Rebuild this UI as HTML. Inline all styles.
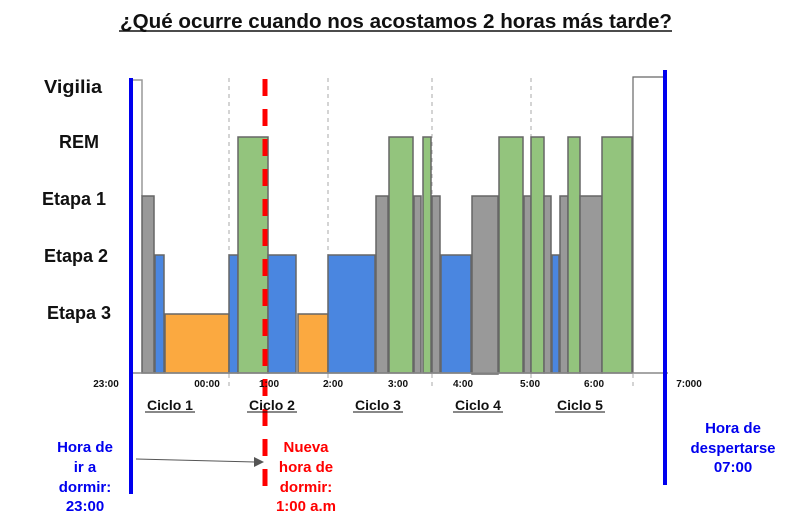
<!DOCTYPE html>
<html><head><meta charset="utf-8"><style>
html,body{margin:0;padding:0;background:#fff;}
svg{display:block;font-family:"Liberation Sans",sans-serif;}
</style></head><body>
<svg width="793" height="531" viewBox="0 0 793 531" xmlns="http://www.w3.org/2000/svg">
<text x="396" y="28" text-anchor="middle" font-size="20" font-weight="bold" fill="#111" textLength="552" lengthAdjust="spacingAndGlyphs">¿Qué ocurre cuando nos acostamos 2 horas más tarde?</text>
<line x1="119" y1="31" x2="672" y2="31" stroke="#111" stroke-width="1.5"/>
<g font-size="18" font-weight="bold" fill="#111" text-anchor="end">
<text x="102" y="93" textLength="58" lengthAdjust="spacingAndGlyphs">Vigilia</text>
<text x="99" y="148">REM</text>
<text x="106" y="205">Etapa 1</text>
<text x="108" y="262">Etapa 2</text>
<text x="111" y="319">Etapa 3</text>
</g>
<g stroke="#aaa" stroke-width="1" stroke-dasharray="4,4">
<line x1="229" y1="78" x2="229" y2="386"/>
<line x1="328" y1="78" x2="328" y2="386"/>
<line x1="432" y1="78" x2="432" y2="386"/>
<line x1="531" y1="78" x2="531" y2="386"/>
<line x1="633" y1="78" x2="633" y2="386"/>
</g>
<polyline points="131,80 142,80 142,196" fill="none" stroke="#999" stroke-width="1.5"/>
<polyline points="633,373 633,77 664,77" fill="none" stroke="#666" stroke-width="1.2"/>
<g stroke="#666" stroke-width="1.5">
<rect x="142" y="196" width="12" height="177" fill="#999"/>
<rect x="155" y="255" width="9" height="118" fill="#4a86e0"/>
<rect x="165" y="314" width="64" height="59" fill="#fba940"/>
<rect x="229" y="255" width="9" height="118" fill="#4a86e0"/>
<rect x="238" y="137" width="30" height="236" fill="#93c47d"/>
<rect x="268" y="255" width="28" height="118" fill="#4a86e0"/>
<rect x="298" y="314" width="30" height="59" fill="#fba940"/>
<rect x="328" y="255" width="47" height="118" fill="#4a86e0"/>
<rect x="376" y="196" width="12" height="177" fill="#999"/>
<rect x="389" y="137" width="24" height="236" fill="#93c47d"/>
<rect x="414" y="196" width="7" height="177" fill="#999"/>
<rect x="423" y="137" width="8" height="236" fill="#93c47d"/>
<rect x="432" y="196" width="8" height="177" fill="#999"/>
<rect x="441" y="255" width="30" height="118" fill="#4a86e0"/>
<rect x="472" y="196" width="26" height="178" fill="#999"/>
<rect x="499" y="137" width="24" height="236" fill="#93c47d"/>
<rect x="524" y="196" width="7" height="177" fill="#999"/>
<rect x="531" y="137" width="13" height="236" fill="#93c47d"/>
<rect x="544" y="196" width="7" height="177" fill="#999"/>
<rect x="552" y="255" width="7" height="118" fill="#4a86e0"/>
<rect x="560" y="196" width="8" height="177" fill="#999"/>
<rect x="568" y="137" width="12" height="236" fill="#93c47d"/>
<rect x="580" y="196" width="22" height="177" fill="#999"/>
<rect x="602" y="137" width="30" height="236" fill="#93c47d"/>
</g>
<line x1="131" y1="373" x2="668" y2="373" stroke="#888" stroke-width="1.5"/>
<line x1="131" y1="78" x2="131" y2="494" stroke="#0000ee" stroke-width="4"/>
<line x1="665" y1="70" x2="665" y2="485" stroke="#0000ee" stroke-width="4"/>
<line x1="265" y1="79" x2="265" y2="495" stroke="#ff0000" stroke-width="5" stroke-dasharray="17,13"/>
<g font-size="10" font-weight="bold" fill="#111" text-anchor="middle">
<text x="106" y="387">23:00</text>
<text x="207" y="387">00:00</text>
<text x="269" y="387">1:00</text>
<text x="333" y="387">2:00</text>
<text x="398" y="387">3:00</text>
<text x="463" y="387">4:00</text>
<text x="530" y="387">5:00</text>
<text x="594" y="387">6:00</text>
<text x="689" y="387">7:000</text>
</g>
<g font-size="14" font-weight="bold" fill="#111" text-anchor="middle">
<text x="170" y="410">Ciclo 1</text>
<text x="272" y="410">Ciclo 2</text>
<text x="378" y="410">Ciclo 3</text>
<text x="478" y="410">Ciclo 4</text>
<text x="580" y="410">Ciclo 5</text>
</g>
<g stroke="#111" stroke-width="1">
<line x1="145" y1="412" x2="195" y2="412"/>
<line x1="247" y1="412" x2="297" y2="412"/>
<line x1="353" y1="412" x2="403" y2="412"/>
<line x1="453" y1="412" x2="503" y2="412"/>
<line x1="555" y1="412" x2="605" y2="412"/>
</g>
<line x1="136" y1="459" x2="255" y2="462" stroke="#555" stroke-width="1"/>
<polygon points="264,462 254,457 254,467" fill="#555"/>
<g font-size="15" font-weight="bold" fill="#0000ee" text-anchor="middle">
<text x="85" y="452">Hora de</text>
<text x="85" y="472">ir a</text>
<text x="85" y="492">dormir:</text>
<text x="85" y="511">23:00</text>
<text x="733" y="433">Hora de</text>
<text x="733" y="453">despertarse</text>
<text x="733" y="472">07:00</text>
</g>
<g font-size="15" font-weight="bold" fill="#ff0000" text-anchor="middle">
<text x="306" y="452">Nueva</text>
<text x="306" y="472">hora de</text>
<text x="306" y="492">dormir:</text>
<text x="306" y="511">1:00 a.m</text>
</g>
</svg>
</body></html>
